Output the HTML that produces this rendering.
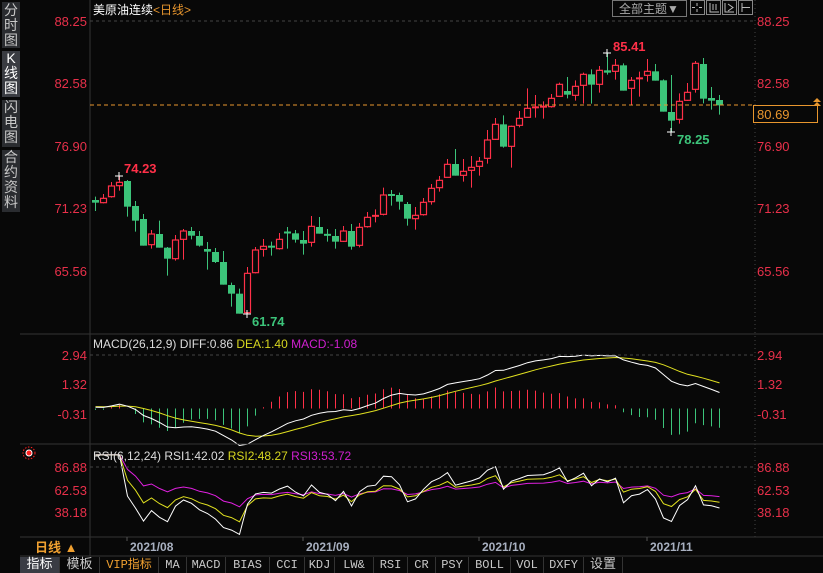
<!DOCTYPE html>
<html><head><meta charset="utf-8">
<style>
html,body{margin:0;padding:0;background:#080808;}
body{width:823px;height:573px;overflow:hidden;position:relative;font-family:"Liberation Sans","Noto Sans CJK SC",sans-serif;}
svg{position:absolute;left:0;top:0;}
.side{position:absolute;left:2px;width:18px;background:#2a2c30;color:#c8c8c8;font-size:14px;line-height:15px;text-align:center;}
.tb{position:absolute;top:557px;height:16px;font-size:12px;line-height:16px;color:#c8c8c8;text-align:center;border-right:1px solid #333;font-family:"Liberation Mono","Noto Sans CJK SC",monospace;}
</style></head><body>
<div class="side" style="top:2px;height:45px;padding-top:1px">分<br>时<br>图</div>
<div class="side" style="top:51px;height:46px;background:#3a3c42;color:#fff">K<br>线<br>图</div>
<div class="side" style="top:100px;height:47px">闪<br>电<br>图</div>
<div class="side" style="top:150px;height:62px">合<br>约<br>资<br>料</div>
<svg id="s" width="823" height="573" xmlns="http://www.w3.org/2000/svg" font-family="Liberation Sans, Noto Sans CJK SC, sans-serif">
<g id="g"></g>
<line x1="90" y1="0" x2="90" y2="537" stroke="#333"/>
<line x1="755" y1="0" x2="755" y2="537" stroke="#444" stroke-dasharray="1,3"/>
<line x1="20" y1="334" x2="823" y2="334" stroke="#333"/>
<line x1="20" y1="444" x2="823" y2="444" stroke="#333"/>
<line x1="20" y1="537" x2="823" y2="537" stroke="#333"/>
<line x1="20" y1="556" x2="823" y2="556" stroke="#333"/>
<line x1="90" y1="21" x2="755" y2="21" stroke="#444" stroke-dasharray="3,3"/>
<line x1="90" y1="355" x2="755" y2="355" stroke="#444" stroke-dasharray="3,3"/>
<line x1="90" y1="467" x2="755" y2="467" stroke="#444" stroke-dasharray="3,3"/>
<line x1="90" y1="105" x2="755" y2="105" stroke="#e8962e" stroke-dasharray="4,3"/>
<g fill="#e8304a" font-size="13">
<text x="87" y="26" text-anchor="end">88.25</text><text x="87" y="88" text-anchor="end">82.58</text>
<text x="87" y="151" text-anchor="end">76.90</text><text x="87" y="213" text-anchor="end">71.23</text>
<text x="87" y="276" text-anchor="end">65.56</text>
<text x="757" y="26">88.25</text><text x="757" y="88">82.58</text><text x="757" y="151">76.90</text>
<text x="757" y="213">71.23</text><text x="757" y="276">65.56</text>
<text x="87" y="360" text-anchor="end">2.94</text><text x="87" y="389" text-anchor="end">1.32</text><text x="87" y="419" text-anchor="end">-0.31</text>
<text x="757" y="360">2.94</text><text x="757" y="389">1.32</text><text x="757" y="419">-0.31</text>
<text x="87" y="472" text-anchor="end">86.88</text><text x="87" y="495" text-anchor="end">62.53</text><text x="87" y="517" text-anchor="end">38.18</text>
<text x="757" y="472">86.88</text><text x="757" y="495">62.53</text><text x="757" y="517">38.18</text>
</g>
<rect x="753.5" y="105.5" width="64" height="17" fill="#080808" stroke="#e8962e"/>
<text x="757" y="119" fill="#e8962e" font-size="13">80.69</text>
<path d="M813 102 L817 98 L821 102 Z M813 106 L817 102 L821 106 Z" fill="#e8962e"/>
<text x="93" y="14" font-size="12" fill="#fff">美原油连续<tspan fill="#e8962e">&lt;日线&gt;</tspan></text>
<rect x="612.5" y="0.5" width="74" height="16" fill="none" stroke="#777"/>
<text x="619" y="13" font-size="12" fill="#aaa">全部主题▼</text>
<rect x="690.5" y="0.5" width="14" height="14" fill="none" stroke="#888"/>
<rect x="706.5" y="0.5" width="14" height="14" fill="none" stroke="#888"/>
<rect x="722.5" y="0.5" width="14" height="14" fill="none" stroke="#888"/>
<rect x="738.5" y="0.5" width="14" height="14" fill="none" stroke="#888"/>
<path d="M697 3v3M697 9v3M692 7.5h3M699 7.5h3M710 3v9h9M713 4v6M716 4v6M725 3v9h9M728 4l5 3.5-5 3.5M742 3v9M742 7.5h8" stroke="#bbb" fill="none"/>
<g font-weight="bold" font-size="13">
<text x="124" y="173" fill="#ff3048">74.23</text>
<text x="252" y="326" fill="#3cc47a">61.74</text>
<text x="613" y="51" fill="#ff3048">85.41</text>
<text x="677" y="144" fill="#3cc47a">78.25</text>
</g>
<text x="93" y="348" font-size="12" fill="#ddd">MACD(26,12,9) DIFF:0.86 <tspan fill="#d8d820">DEA:1.40</tspan> <tspan fill="#d020d0">MACD:-1.08</tspan></text>
<text x="93" y="460" font-size="12" fill="#ddd">RSI(6,12,24) RSI1:42.02 <tspan fill="#d8d820">RSI2:48.27</tspan> <tspan fill="#d020d0">RSI3:53.72</tspan></text>
<circle cx="29" cy="453" r="3" fill="#ff2020" stroke="#fff" stroke-width="1"/>
<circle cx="29" cy="453" r="6" fill="none" stroke="#ff2020" stroke-dasharray="1.5,1.5"/>
<g stroke="#555"><line x1="127" y1="537" x2="127" y2="541"/><line x1="303" y1="537" x2="303" y2="541"/><line x1="479" y1="537" x2="479" y2="541"/><line x1="647" y1="537" x2="647" y2="541"/></g>
<g font-size="12" font-weight="bold" fill="#a8b0c0">
<text x="130" y="551">2021/08</text><text x="306" y="551">2021/09</text><text x="482" y="551">2021/10</text><text x="650" y="551">2021/11</text>
</g>
<text x="35" y="552" font-size="13" fill="#f0a030" font-weight="bold">日线 ▲</text>
<line x1="90" y1="537" x2="90" y2="556" stroke="#333"/>
</svg>
<div class="tb" style="left:20px;width:39px;background:#3a3c44;color:#fff;font-size:13px">指标</div>
<div class="tb" style="left:60px;width:39px;font-size:13px">模板</div>
<div class="tb" style="left:100px;width:58px;color:#f0a030">VIP指标</div>
<div class="tb" style="left:159px;width:27px">MA</div>
<div class="tb" style="left:187px;width:38px">MACD</div>
<div class="tb" style="left:226px;width:43px">BIAS</div>
<div class="tb" style="left:270px;width:34px">CCI</div>
<div class="tb" style="left:305px;width:29px">KDJ</div>
<div class="tb" style="left:335px;width:38px">LW&amp;</div>
<div class="tb" style="left:374px;width:33px">RSI</div>
<div class="tb" style="left:408px;width:27px">CR</div>
<div class="tb" style="left:436px;width:32px">PSY</div>
<div class="tb" style="left:469px;width:41px">BOLL</div>
<div class="tb" style="left:511px;width:32px">VOL</div>
<div class="tb" style="left:544px;width:39px">DXFY</div>
<div class="tb" style="left:584px;width:38px;font-size:13px">设置</div>
<script>
var A=[[150,158,140,183,'g'],[145,158,132,160,'r'],[108,140,96,143,'r'],[97,107,78,122,'r'],[93,170,90,200,'g'],[168,212,153,245,'g'],[207,287,192,287,'g'],[252,284,240,296,'r'],[252,293,212,293,'g'],[293,326,291,377,'g'],[270,326,255,332,'r'],[243,268,237,329,'r'],[243,257,231,268,'g'],[258,287,243,290,'g'],[297,305,276,359,'g'],[306,336,294,339,'g'],[336,404,303,404,'g'],[405,431,398,470,'g'],[431,491,416,491,'g'],[370,488,351,491,'r'],[300,368,291,370,'r'],[289,298,267,320,'r'],[288,292,275,317,'g'],[268,296,249,299,'r'],[245,250,231,296,'g'],[250,269,240,278,'g'],[270,281,243,314,'g'],[229,277,198,290,'r'],[231,251,201,251,'g'],[252,257,237,275,'g'],[258,275,237,296,'g'],[243,274,228,276,'r'],[243,290,222,299,'g'],[232,286,219,292,'r'],[202,230,186,233,'r'],[196,199,178,217,'r'],[135,193,113,196,'r'],[134,136,120,167,'g'],[135,155,128,179,'g']];
var B=[[492,536,486,557,'g'],[526,536,501,569,'r'],[487,524,474,527,'r'],[445,485,432,494,'r'],[421,443,408,455,'r'],[373,412,357,412,'r'],[372,407,327,407,'g'],[394,406,357,425,'r'],[382,391,348,443,'r'],[364,379,351,407,'r'],[300,355,270,371,'r'],[253,298,234,300,'r'],[253,320,226,323,'g'],[259,319,257,383,'r'],[235,256,213,262,'r'],[205,232,145,232,'r'],[201,203,165,233,'r'],[198,202,184,236,'r'],[175,200,162,203,'r'],[133,169,128,170,'r'],[153,164,111,175,'g'],[139,166,121,182,'r'],[103,136,98,191,'r'],[103,134,88,191,'g'],[91,133,78,158,'r'],[91,98,38,104,'g'],[76,94,57,119,'r'],[76,152,70,152,'g'],[121,145,111,195,'r'],[114,116,95,170,'r'],[94,106,57,125,'r'],[94,122,72,122,'g'],[121,215,118,215,'g'],[216,242,105,277,'g'],[184,238,160,251,'r'],[157,181,129,183,'r'],[70,148,63,158,'r'],[72,176,54,190,'g'],[174,182,141,209,'g'],[180,196,165,224,'g']];
var C=[];A.forEach(function(d){C.push([150+d[0]/3,150+d[1]/3,150+d[2]/3,150+d[3]/3,d[4]]);});
B.forEach(function(d){C.push([40+d[0]/3,40+d[1]/3,40+d[2]/3,40+d[3]/3,d[4]]);});
var R='#ff3048',G='#3cc47a',h='',closes=[];
function P(y){return 88.25-(y-21)/11.018;}
C.forEach(function(d,i){var x=Math.round(95.3+i*8),t=d[0],b=d[1],c=d[4]=='r'?R:G;
closes.push(P(d[4]=='r'?t:b));
h+='<line x1="'+(x+.5)+'" y1="'+d[2]+'" x2="'+(x+.5)+'" y2="'+d[3]+'" stroke="'+c+'"/>';
if(b-t<2.2){h+='<line x1="'+(x-3)+'" y1="'+((t+b)/2)+'" x2="'+(x+4)+'" y2="'+((t+b)/2)+'" stroke="'+c+'" stroke-width="2"/>';}
else if(d[4]=='r'){h+='<rect x="'+(x-2.5)+'" y="'+t+'" width="6" height="'+(b-t)+'" fill="#080808" stroke="'+c+'" stroke-width="1.2"/>';}
else{h+='<rect x="'+(x-3)+'" y="'+t+'" width="7" height="'+(b-t)+'" fill="'+c+'"/>';}
});
[[119,176],[247,314],[607,53],[671,132]].forEach(function(p){h+='<path d="M'+(p[0]-4)+' '+p[1]+'h8M'+p[0]+' '+(p[1]-4)+'v8" stroke="#fff"/>';});
var e12=closes[0]+0.5,e26=closes[0]+0.4,dea=0.1,dl='',al='';
var rs=[[6,0.5,0.5],[12,0.5,0.5],[24,0.5,0.5]],rl=['','',''];
closes.forEach(function(c,i){e12=e12*11/13+c*2/13;e26=e26*25/27+c*2/27;var df=e12-e26;dea=dea*0.8+df*0.2;var m=2*(df-dea);
var x=Math.round(95.3+i*8)+.5,yz=408.5;
function my(v){return 355+(2.94-v)*18.1;}
h+='<line x1="'+x+'" y1="'+yz+'" x2="'+x+'" y2="'+(yz-m*18.1)+'" stroke="'+(m>=0?R:G)+'"/>';
dl+=(i?'L':'M')+x+' '+my(df).toFixed(1);al+=(i?'L':'M')+x+' '+my(dea).toFixed(1);
if(i>0){var ch=c-closes[i-1];rs.forEach(function(r,k){r[1]=(Math.max(ch,0)+(r[0]-1)*r[1])/r[0];r[2]=(Math.abs(ch)+(r[0]-1)*r[2])/r[0];});}
rs.forEach(function(r,k){var v=r[1]/r[2]*100;rl[k]+=(i?'L':'M')+x+' '+(467+(86.88-v)*0.92).toFixed(1);});
});
h+='<path d="'+al+'" stroke="#e0e020" fill="none"/><path d="'+dl+'" stroke="#fff" fill="none"/>';
h+='<path d="'+rl[2]+'" stroke="#e020e0" fill="none"/><path d="'+rl[1]+'" stroke="#e0e020" fill="none"/><path d="'+rl[0]+'" stroke="#fff" fill="none"/>';
document.getElementById('g').innerHTML=h;
</script>
</body></html>
